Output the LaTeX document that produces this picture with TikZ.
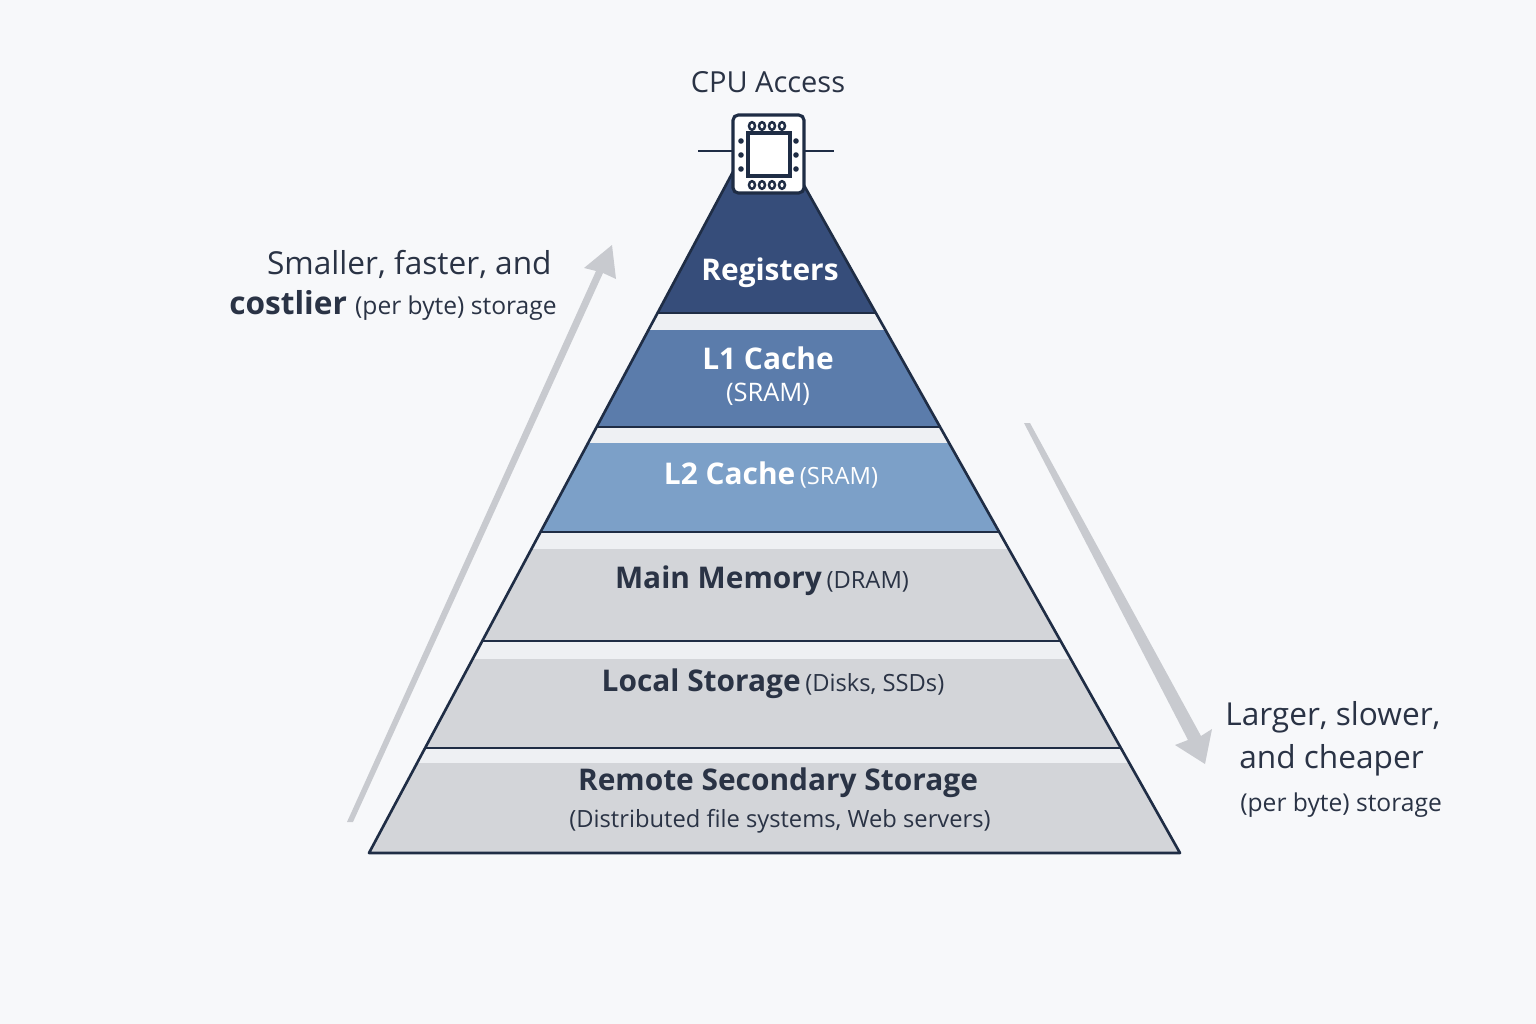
\documentclass[tikz,border=0pt]{standalone}
\usepackage{fontspec}
\setmainfont{Open Sans}
\begin{document}
\begin{tikzpicture}[x=0.02cm,y=-0.02cm,
  lbl/.style={font=\fontsize{17}{19}\selectfont\bfseries,text=#1,inner sep=0pt},
  sm/.style={font=\fontsize{13.5}{15}\selectfont,text=#1,inner sep=0pt},
  side/.style={font=\fontsize{18}{20}\selectfont,text=txt,inner sep=0pt},
  band/.style={fill=#1},
  sep/.style={draw=edge,line width=1.2pt}]
\definecolor{bg}{HTML}{F7F8FA}
\definecolor{edge}{HTML}{1F2D45}
\definecolor{reg}{HTML}{364D7A}
\definecolor{lone}{HTML}{5B7CAB}
\definecolor{ltwo}{HTML}{7CA0C8}
\definecolor{gr}{HTML}{D3D5D9}
\definecolor{gap}{HTML}{EEF0F3}
\definecolor{txt}{HTML}{2A3345}
\definecolor{arr}{HTML}{C8CACF}
\useasboundingbox (0,0) rectangle (1536,1024);
\fill[bg] (0,0) rectangle (1536,1024);
% arrows
\fill[arr] (347,822) -- (353,822) -- (603,273) -- (616,279) -- (612,245) -- (584,268) -- (596,271) -- cycle;
\fill[arr] (1024,423) -- (1030,423) -- (1201,736) -- (1212,729) -- (1205,764) -- (1175,745) -- (1188,740) -- cycle;
% pyramid
\coordinate (tl) at (758,125);
\coordinate (tr) at (770,125);
\coordinate (bl) at (369,853);
\coordinate (br) at (1180,853);
\begin{scope}
\clip (tl) -- (tr) -- (br) -- (bl) -- cycle;
\fill[gap] (300,100) rectangle (1250,860);
\fill[band=reg] (300,100) rectangle (1250,313);
\fill[band=lone] (300,330) rectangle (1250,427);
\fill[band=ltwo] (300,443) rectangle (1250,532);
\fill[band=gr] (300,549) rectangle (1250,641);
\fill[band=gr] (300,659) rectangle (1250,748);
\fill[band=gr] (300,763) rectangle (1250,853);
\foreach \y in {313,427,532,641,748} \draw[sep] (300,\y) -- (1250,\y);
\end{scope}
\draw[edge,line width=1.5pt,line join=round] (tl) -- (tr) -- (br) -- (bl) -- cycle;
% chip
\draw[edge,line width=1pt] (698,151) -- (733,151) (804,151) -- (834,151);
\node[draw=edge,line width=1.8pt,fill=white,rounded corners=3pt,minimum width=71*0.02cm,minimum height=78*0.02cm] (chip) at (768.5,154) {};
\node[draw=edge,line width=1.8pt,minimum width=42*0.02cm,minimum height=43*0.02cm] (core) at (769,154.5) {};
\foreach \x in {750,760,770,780} {\draw[edge,line width=1.4pt] (\x+2,126) ellipse[x radius=3,y radius=3.8]; \draw[edge,line width=1.4pt] (\x+2,185) ellipse[x radius=3,y radius=3.8];}
\foreach \y in {141,155,169} {\fill[edge] (741,\y) circle[radius=2.8]; \fill[edge] (796,\y) circle[radius=2.8];}
\node[font=\fontsize{16.5}{18}\selectfont,text=txt] (cpu) at (768,82) {CPU Access};
% labels
\node[lbl=white] (t1) at (770,273) {Registers};
\node[lbl=white] (t2) at (768,358) {L1 Cache};
\node[sm=white,font=\fontsize{14.5}{16}\selectfont] (t2b) at (768,394) {(SRAM)};
\node (t3) at (771,475) {\textcolor{white}{\fontsize{17}{19}\selectfont\bfseries L2 Cache} \textcolor{white}{\fontsize{13.5}{15}\selectfont(SRAM)}};
\node (t4) at (762,581) {\textcolor{txt}{\fontsize{17}{19}\selectfont\bfseries Main Memory} \textcolor{txt}{\fontsize{13.5}{15}\selectfont(DRAM)}};
\node (t5) at (773,684) {\textcolor{txt}{\fontsize{17}{19}\selectfont\bfseries Local Storage} \textcolor{txt}{\fontsize{13.5}{15}\selectfont(Disks, SSDs)}};
\node[lbl=txt] (t6) at (778,783) {Remote Secondary Storage};
\node[sm=txt] (t6b) at (780,821) {(Distributed file systems, Web servers)};
% side texts
\node[side,anchor=east] (l1) at (552,264) {Smaller, faster, and};
\node[side,anchor=east] (l2) at (557,305) {\textbf{costlier} {\fontsize{14}{15}\selectfont(per byte) storage}};
\node[side,anchor=west] (r1) at (1225,717) {Larger, slower,};
\node[side,anchor=west] (r2) at (1239,760) {and cheaper};
\node[side,anchor=west,font=\fontsize{14}{15}\selectfont] (r3) at (1240,805) {(per byte) storage};
\end{tikzpicture}
\end{document}
